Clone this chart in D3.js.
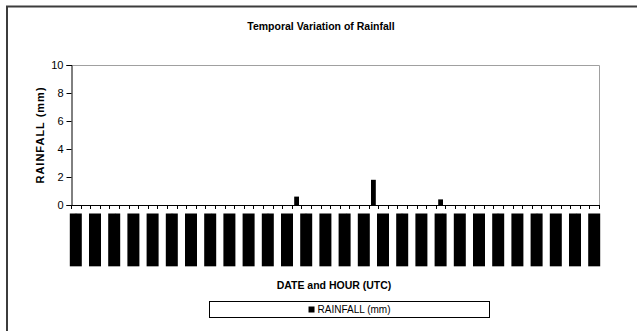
<!DOCTYPE html>
<html><head><meta charset="utf-8">
<script src="https://cdn.jsdelivr.net/npm/d3@7/dist/d3.min.js"></script>
<style>
body{margin:0;background:#fff}
text{font-family:"Liberation Sans",Arial,sans-serif}
</style>
</head><body>
<svg id="chart" width="637" height="331"></svg>
<script>
// ---- data ----
const categories = [
  "01/07/09 00","01/07/09 01","01/07/09 02","01/07/09 03","01/07/09 04","01/07/09 05",
  "01/07/09 06","01/07/09 07","01/07/09 08","01/07/09 09","01/07/09 10","01/07/09 11",
  "01/07/09 12","01/07/09 13","01/07/09 14","01/07/09 15","01/07/09 16","01/07/09 17",
  "01/07/09 18","01/07/09 19","01/07/09 20","01/07/09 21","01/07/09 22","01/07/09 23",
  "02/07/09 00","02/07/09 01","02/07/09 02","02/07/09 03","02/07/09 04","02/07/09 05",
  "02/07/09 06","02/07/09 07","02/07/09 08","02/07/09 09","02/07/09 10","02/07/09 11",
  "02/07/09 12","02/07/09 13","02/07/09 14","02/07/09 15","02/07/09 16","02/07/09 17",
  "02/07/09 18","02/07/09 19","02/07/09 20","02/07/09 21","02/07/09 22","02/07/09 23",
  "03/07/09 00","03/07/09 01","03/07/09 02","03/07/09 03","03/07/09 04","03/07/09 05",
  "03/07/09 06"
];
const rainfall = [
  0,0,0,0,0,0,0,0,0,0,
  0,0,0,0,0,0,0,0,0,0,
  0,0,0,0.6,0,0,0,0,0,0,
  0,1.8,0,0,0,0,0,0,0.4,0,
  0,0,0,0,0,0,0,0,0,0,
  0,0,0,0,0
];
const yTicks = [0,2,4,6,8,10];
const chartTitle = "Temporal Variation of Rainfall";
const yTitle = "RAINFALL  (mm)";
const xTitle = "DATE and  HOUR (UTC)";
const seriesName = "RAINFALL (mm)";

// ---- layout ----
const svg = d3.select("#chart");
const plot = {left:71, right:599, top:65, bottom:205};

svg.append("rect").attr("x",0).attr("y",0).attr("width",637).attr("height",331).attr("fill","#fff");
// outer chart border (extends beyond the canvas on right/bottom)
svg.append("rect").attr("x",7).attr("y",6.5).attr("width",660).attr("height",360)
  .attr("fill","none").attr("stroke","#3c3c3c").attr("stroke-width",2);

const x = d3.scaleBand().domain(categories).range([plot.left, plot.right]).paddingInner(0.5).paddingOuter(0.25);
const xb = d3.scaleBand().domain(categories).range([plot.left, plot.right]);
const y = d3.scaleLinear().domain([0,10]).range([plot.bottom, plot.top]);

// plot area border (gray top/right)
svg.append("path")
  .attr("d",`M${plot.left},${plot.top+0.5}H${plot.right+0.5}V${plot.bottom}`)
  .attr("fill","none").attr("stroke","#a0a0a0").attr("stroke-width",1);

// bars
svg.append("g").selectAll("rect").data(categories.map((c,i)=>({c, v:rainfall[i]})))
  .join("rect")
  .attr("x", d=>x(d.c))
  .attr("width", x.bandwidth())
  .attr("y", d=>y(d.v))
  .attr("height", d=>y(0)-y(d.v))
  .attr("fill","#000");

// y axis
const yAxis = svg.append("g").attr("transform",`translate(${plot.left+0.5},0)`)
  .call(d3.axisLeft(y).tickValues(yTicks).tickSize(5).tickPadding(3).tickFormat(d3.format("d")));
yAxis.select(".domain").attr("stroke","#000");
yAxis.selectAll(".tick line").attr("stroke","#000");
yAxis.selectAll("text").attr("font-size",11).attr("fill","#000").style("font-family",'"Liberation Sans",Arial,sans-serif');

// x axis line + ticks between categories
svg.append("line").attr("x1",plot.left).attr("x2",plot.right+0.5)
  .attr("y1",plot.bottom+0.5).attr("y2",plot.bottom+0.5).attr("stroke","#000");
const boundaries = categories.map(c=>xb(c)).concat([plot.right]);
svg.append("g").selectAll("line").data(boundaries).join("line")
  .attr("x1",d=>Math.round(d)+0.5).attr("x2",d=>Math.round(d)+0.5)
  .attr("y1",plot.bottom).attr("y2",plot.bottom+4).attr("stroke","#000");

// category labels (every 2nd), rendered as solid black blocks as in the reference
const shown = categories.filter((c,i)=>i%2===0);
const lab = svg.append("g").selectAll("g").data(shown).join("g")
  .attr("transform", d=>`translate(${xb(d)+xb.bandwidth()/2},213.5)`);
const txt = lab.append("text")
  .attr("transform","translate(4,0) rotate(-90)")
  .attr("text-anchor","end").attr("font-size",10).attr("fill","#000")
  .text(d=>d);
lab.insert("rect","text")
  .attr("x",-6).attr("y",0).attr("width",12)
  .attr("height", function(){ return this.parentNode.querySelector("text").getComputedTextLength(); })
  .attr("fill","#000");

// titles
svg.append("text").attr("x",321).attr("y",30).attr("text-anchor","middle")
  .attr("font-size",10.5).attr("font-weight","bold").text(chartTitle);
svg.append("text").attr("transform",`translate(44,135) rotate(-90)`).attr("text-anchor","middle")
  .attr("font-size",11).attr("font-weight","bold").attr("letter-spacing",1).text(yTitle);
svg.append("text").attr("x",334).attr("y",289).attr("text-anchor","middle")
  .attr("font-size",10.5).attr("font-weight","bold").text(xTitle);

// legend
svg.append("rect").attr("x",209.5).attr("y",301.5).attr("width",280).attr("height",16)
  .attr("fill","#fff").attr("stroke","#000").attr("stroke-width",1);
const lg = svg.append("g");
lg.append("rect").attr("width",6).attr("height",6).attr("fill","#000");
const lt = lg.append("text").attr("x",9).attr("y",6).attr("font-size",10).text(seriesName);
const lw = 9 + lt.node().getComputedTextLength();
lg.attr("transform",`translate(${349.5 - lw/2},306.5)`);
</script>
</body></html>
